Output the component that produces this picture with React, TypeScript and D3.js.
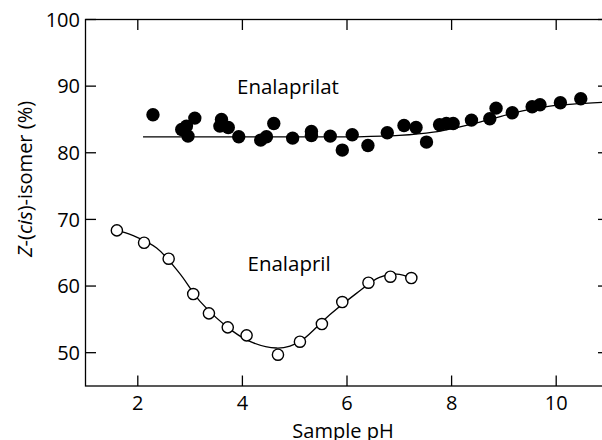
import React from 'react';
import * as d3 from 'd3';

// Enalaprilat (filled) measurements
const phEnalaprilat = [2.29, 2.84, 2.93, 2.96, 3.09, 3.57, 3.6, 3.73, 3.93, 4.35, 4.46, 4.6, 4.96, 5.32, 5.32, 5.68, 5.91, 6.1, 6.4, 6.77, 7.09, 7.32, 7.52, 7.77, 7.9, 8.03, 8.38, 8.73, 8.85, 9.16, 9.54, 9.69, 10.08, 10.47];
const zEnalaprilat = [85.7, 83.5, 84.0, 82.5, 85.2, 84.0, 85.0, 83.8, 82.4, 81.9, 82.4, 84.4, 82.2, 83.2, 82.6, 82.5, 80.4, 82.7, 81.1, 83.0, 84.1, 83.8, 81.6, 84.2, 84.4, 84.4, 84.9, 85.1, 86.7, 86.0, 86.9, 87.2, 87.5, 88.1];

// Enalapril (open) measurements
const phEnalapril = [1.6, 2.12, 2.59, 3.06, 3.36, 3.72, 4.08, 4.68, 5.1, 5.52, 5.91, 6.41, 6.83, 7.23];
const zEnalapril = [68.35, 66.5, 64.1, 58.8, 55.9, 53.8, 52.6, 49.7, 51.65, 54.3, 57.6, 60.5, 61.4, 61.2];

// fitted curves
const fitPhEnalaprilat = [2.1, 4.0, 6.2, 7.0, 7.65, 8.16, 8.54, 9.05, 9.43, 9.88, 10.32, 11.0];
const fitZEnalaprilat = [82.4, 82.4, 82.4, 82.6, 83.1, 83.9, 84.6, 85.7, 86.4, 87.0, 87.3, 87.6];
const fitPhEnalapril = [1.6, 1.9, 2.36, 2.8, 3.19, 3.82, 4.2, 4.65, 4.91, 5.16, 5.67, 6.18, 6.62, 6.95, 7.23];
const fitZEnalapril = [68.4, 67.6, 65.7, 61.9, 57.7, 53.2, 51.5, 50.7, 51.0, 52.0, 55.7, 58.9, 61.3, 61.8, 61.2];

const xTicks = [2, 4, 6, 8, 10];
const yTicks = [50, 60, 70, 80, 90, 100];

const width = 602;
const height = 440;
const font = "'Open Sans', sans-serif";

export default function App() {
  const x = d3.scaleLinear().domain([1, 11]).range([85.5, 608.5]);
  const y = d3.scaleLinear().domain([45, 100]).range([386, 19.5]);

  const line = d3.line<[number, number]>()
    .x(d => x(d[0]))
    .y(d => y(d[1]))
    .curve(d3.curveCatmullRom.alpha(0.5));

  const fitA = fitPhEnalaprilat.map((p, i) => [p, fitZEnalaprilat[i]] as [number, number]);
  const fitB = fitPhEnalapril.map((p, i) => [p, fitZEnalapril[i]] as [number, number]);

  const [x0, x1] = x.range();
  const [y0, y1] = y.range();
  const tick = 10.5;

  return (
    <div style={{ position: 'fixed', left: 0, top: 0 }}>
      <svg width={width} height={height} style={{ display: 'block', background: '#fff' }} fontFamily={font}>
        {/* frame */}
        <rect x={x0} y={y1} width={x1 - x0} height={y0 - y1} fill="none" stroke="#000" strokeWidth={1.3} />
        {xTicks.map(t => (
          <g key={'x' + t}>
            <line x1={x(t)} x2={x(t)} y1={y0} y2={y0 - tick} stroke="#000" strokeWidth={1.3} />
            <line x1={x(t)} x2={x(t)} y1={y1} y2={y1 + tick} stroke="#000" strokeWidth={1.3} />
            <text x={x(t)} y={y0 + 24} textAnchor="middle" fontSize={20} fill="#000">{t}</text>
          </g>
        ))}
        {yTicks.map(t => (
          <g key={'y' + t}>
            <line x1={x0} x2={x0 + tick} y1={y(t)} y2={y(t)} stroke="#000" strokeWidth={1.3} />
            <line x1={x1} x2={x1 - tick} y1={y(t)} y2={y(t)} stroke="#000" strokeWidth={1.3} />
            <text x={x0 - 5.5} y={y(t)} dy="0.36em" textAnchor="end" fontSize={20} fill="#000">{t}</text>
          </g>
        ))}
        <text x={343} y={438} textAnchor="middle" fontSize={20} fill="#000">Sample pH</text>
        <text transform="translate(31.5,179) rotate(-90)" textAnchor="middle" fontSize={20} fill="#000">
          <tspan fontStyle="italic">Z</tspan>-(<tspan fontStyle="italic">cis</tspan>)-isomer (%)
        </text>

        {/* fits */}
        <path d={line(fitA) || ''} fill="none" stroke="#000" strokeWidth={1.3} />
        <path d={line(fitB) || ''} fill="none" stroke="#000" strokeWidth={1.3} />

        {/* points */}
        {phEnalaprilat.map((p, i) => (
          <circle key={'a' + i} cx={x(p)} cy={y(zEnalaprilat[i])} r={6.7} fill="#000" />
        ))}
        {phEnalapril.map((p, i) => (
          <circle key={'b' + i} cx={x(p)} cy={y(zEnalapril[i])} r={5.6} fill="#fff" stroke="#000" strokeWidth={1.4} />
        ))}

        <text x={237} y={93.5} fontSize={20.5} fill="#000">Enalaprilat</text>
        <text x={247.5} y={270.5} fontSize={20.5} fill="#000">Enalapril</text>
      </svg>
    </div>
  );
}
